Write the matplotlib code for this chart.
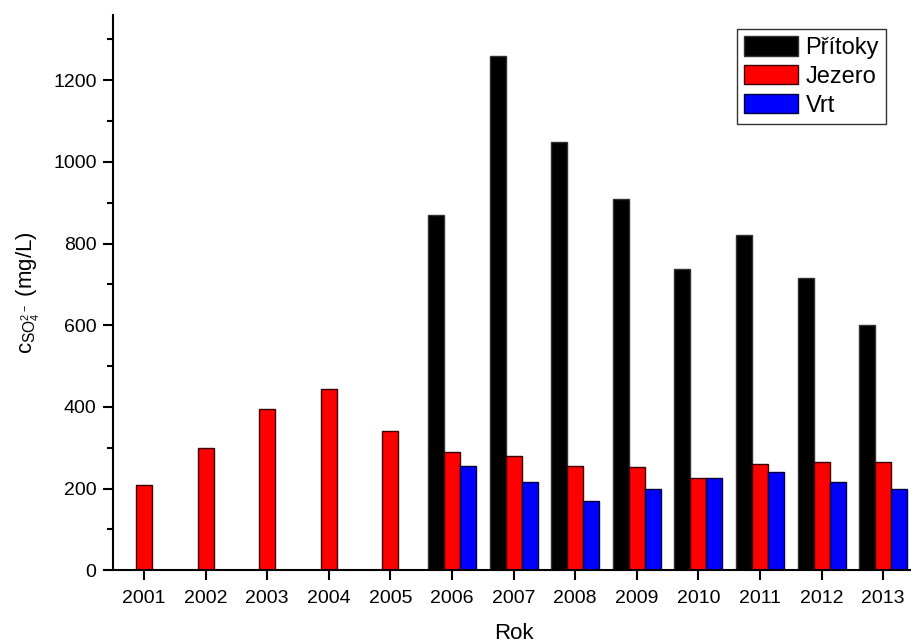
import matplotlib
matplotlib.use("Agg")
import matplotlib.pyplot as plt
import numpy as np

plt.rcParams['font.family'] = ['Liberation Sans', 'DejaVu Sans']
plt.rcParams['mathtext.fontset'] = 'custom'
plt.rcParams['mathtext.rm'] = 'Liberation Sans'

years = [2001, 2002, 2003, 2004, 2005, 2006, 2007, 2008, 2009, 2010, 2011, 2012, 2013]
pritoky = [np.nan, np.nan, np.nan, np.nan, np.nan, 870, 1260, 1048, 909, 738, 821, 717, 600]
jezero = [209, 300, 395, 443, 342, 289, 280, 256, 254, 227, 261, 266, 264]
vrt = [np.nan, np.nan, np.nan, np.nan, np.nan, 255, 216, 170, 199, 227, 240, 217, 200]

fig = plt.figure(figsize=(9.11, 6.43), dpi=100)
ax = fig.add_axes([0.1243, 0.1131, 0.879, 0.8636])

x = np.array(years, dtype=float)
w = 0.26
ax.bar(x - w, pritoky, width=w, color='black', edgecolor='#303030', linewidth=1, label='Přítoky')
ax.bar(x, jezero, width=w, color='#ff0000', edgecolor='#3a0000', linewidth=1, label='Jezero')
ax.bar(x + w, vrt, width=w, color='#0000ff', edgecolor='#000040', linewidth=1, label='Vrt')

ax.set_xlim(2000.5, 2013.5)
ax.set_ylim(0, 1360)
ax.set_xticks(years)
ax.set_xticklabels([str(y) for y in years])
ax.set_yticks(np.arange(0, 1201, 200))
ax.set_yticks(np.arange(100, 1301, 200), minor=True)

for s in ['top', 'right']:
    ax.spines[s].set_visible(False)
for s in ['left', 'bottom']:
    ax.spines[s].set_linewidth(1.5)

ax.tick_params(axis='both', which='major', direction='out', length=7, width=1.5, labelsize=14)
ax.tick_params(axis='x', which='major', pad=7)
ax.tick_params(axis='y', which='major', pad=5)
ax.tick_params(axis='y', which='minor', direction='out', length=4, width=1.5)

ax.set_xlabel('Rok', fontsize=16, labelpad=12)
ax.set_ylabel(r'$\mathregular{c_{SO_4^{2-}}}$ (mg/L)', fontsize=16, labelpad=8)

leg = ax.legend(loc='upper right', bbox_to_anchor=(0.965, 0.975), fontsize=17,
                frameon=True, fancybox=False, edgecolor='black', handlelength=2.3,
                handleheight=0.9, handletextpad=0.3, borderpad=0.3, labelspacing=0.25,
                borderaxespad=0)
leg.get_frame().set_linewidth(1.0)

fig.savefig('out.png', dpi=100)
